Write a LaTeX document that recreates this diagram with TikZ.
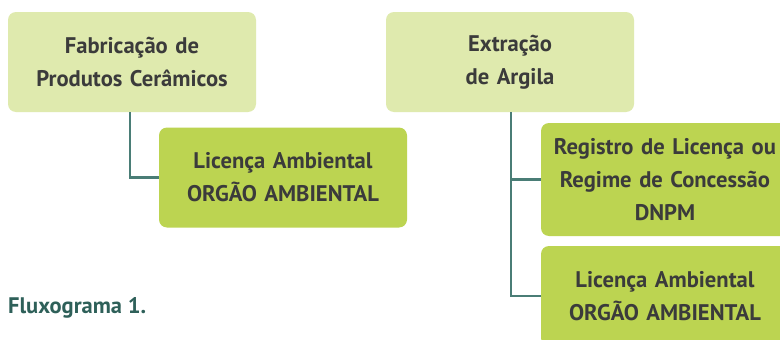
\documentclass[tikz,border=0pt]{standalone}
\usepackage{fontspec}
\setmainfont{PT Sans}
\definecolor{lightbox}{HTML}{DFEAAE}
\definecolor{greenbox}{HTML}{BCD451}
\definecolor{conncol}{HTML}{4A7D76}
\definecolor{txtcol}{HTML}{3B3B3B}
\definecolor{captcol}{HTML}{2E6059}
\begin{document}
\begin{tikzpicture}[x=1pt,y=-1pt,
  boxbase/.style={rectangle, rounded corners=8pt, minimum width=248pt, inner sep=0pt,
    text width=246pt, align=center, text=txtcol,
    font=\bfseries\fontsize{22.6}{33}\selectfont},
  lightnode/.style={boxbase, fill=lightbox, minimum height=100pt},
  greennode/.style={boxbase, fill=greenbox, minimum height=100pt},
  conn/.style={draw=conncol, line width=2.6pt},
  caption/.style={anchor=base west, inner sep=0pt, text=captcol, font=\bfseries\fontsize{22.5}{26}\selectfont}]
\useasboundingbox (0,0) rectangle (780,340);
\clip (0,0) rectangle (780,340);
\fill[white] (0,0) rectangle (780,340);
\node[lightnode] (b1) at (132,62) {Fabricação de\\Produtos Cerâmicos};
\node[greennode] (b2) at (283,177.5) {Licença Ambiental\\ORGÃO AMBIENTAL};
\node[lightnode] (b3) at (510,62) {Extração\\de Argila};
\node[greennode, minimum height=113pt] (b4) at (665,179.5) {Registro de Licença ou\\Regime de Concessão\\DNPM};
\node[greennode] (b5) at (665,296) {Licença Ambiental\\ORGÃO AMBIENTAL};
\node[caption] (cap) at (8,313) {Fluxograma 1.};
\coordinate (c1) at ([xshift=-2pt]b1.south);
\coordinate (c3) at ([xshift=1pt]b3.south);
\draw[conn] (c1) |- (b2.west);
\draw[conn] (c3) |- (b4.west);
\draw[conn] (c3) |- (b5.west);
\end{tikzpicture}
\end{document}
